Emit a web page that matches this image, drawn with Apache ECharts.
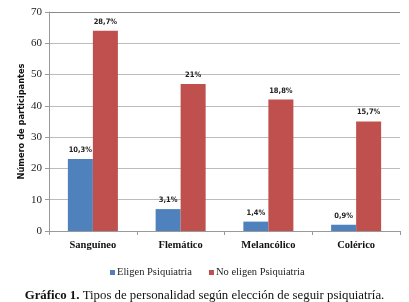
<!DOCTYPE html>
<html>
<head>
<meta charset="utf-8">
<script src="https://cdn.jsdelivr.net/npm/echarts@6/dist/echarts.min.js"></script>
<style>
html,body{margin:0;padding:0;background:#fff;}
#c{width:409px;height:302px;}
</style>
</head>
<body>
<div id="c"></div>
<script>
const categories = ['Sanguíneo', 'Flemático', 'Melancólico', 'Colérico'];
const eligen = [23, 7, 3, 2];
const noEligen = [64, 47, 42, 35];
const eligenPct = ['10,3%', '3,1%', '1,4%', '0,9%'];
const noEligenPct = ['28,7%', '21%', '18,8%', '15,7%'];
const yTicks = [0, 10, 20, 30, 40, 50, 60, 70];

const serif = 'Liberation Serif';
const chart = echarts.init(document.getElementById('c'));
const labelStyle = {
  show: true, position: 'top', distance: 5,
  fontFamily: 'DejaVu Sans Condensed, Liberation Sans, sans-serif',
  fontWeight: 'bold', fontSize: 7.5, color: '#222'
};
chart.setOption({
  animation: false,
  grid: { left: 49, right: 9, top: 12, bottom: 71, containLabel: false },
  legend: {
    top: 262, left: 105,
    itemWidth: 5, itemHeight: 5, itemGap: 17,
    icon: 'rect',
    textStyle: { fontFamily: serif, fontSize: 10.5, color: '#222', padding: [0, 0, 0, -3] },
    data: ['Eligen Psiquiatria', 'No eligen Psiquiatria']
  },
  title: {
    text: '{b|Gráfico 1.} Tipos de personalidad según elección de seguir psiquiatría.',
    left: 'center', top: 284,
    textStyle: {
      fontFamily: serif, fontSize: 12.8, fontWeight: 'normal', color: '#111',
      rich: { b: { fontFamily: serif, fontSize: 12.8, fontWeight: 'bold', color: '#111' } }
    }
  },
  xAxis: {
    type: 'category', data: categories,
    axisLine: { lineStyle: { color: '#999' } },
    axisTick: { show: true, alignWithLabel: false, length: 4, lineStyle: { color: '#999' } },
    axisLabel: { fontFamily: serif, fontWeight: 'bold', fontSize: 10.5, color: '#111', margin: 9 }
  },
  yAxis: {
    type: 'value', min: yTicks[0], max: yTicks[yTicks.length - 1], interval: 10,
    name: 'Número de participantes', nameLocation: 'middle', nameGap: 23,
    nameMoveOverlap: false,
    nameTextStyle: { fontFamily: 'DejaVu Sans Condensed, Liberation Sans, sans-serif', fontWeight: 'bold', fontSize: 9.2, color: '#111' },
    axisLine: { show: true, lineStyle: { color: '#999' } },
    axisTick: { show: true, length: 4, lineStyle: { color: '#999' } },
    axisLabel: { fontFamily: serif, fontSize: 11, color: '#222', margin: 7 },
    splitLine: { lineStyle: { color: ['#bcbcbc', '#bcbcbc', '#bcbcbc', '#bcbcbc', '#bcbcbc', '#bcbcbc', '#bcbcbc', '#8a8a8a'] } }
  },
  series: [
    {
      name: 'Eligen Psiquiatria', type: 'bar', data: eligen,
      barCategoryGap: '43%', barGap: '0%',
      itemStyle: { color: '#4F81BD' },
      label: Object.assign({}, labelStyle, { formatter: p => eligenPct[p.dataIndex] })
    },
    {
      name: 'No eligen Psiquiatria', type: 'bar', data: noEligen,
      barCategoryGap: '43%', barGap: '0%',
      itemStyle: { color: '#C0504D' },
      label: Object.assign({}, labelStyle, { formatter: p => noEligenPct[p.dataIndex] })
    }
  ]
});
</script>
</body>
</html>
